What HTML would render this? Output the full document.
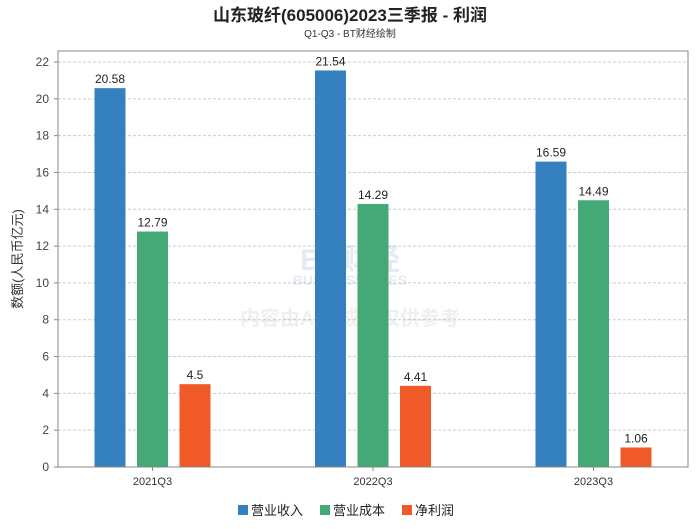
<!DOCTYPE html>
<html><head><meta charset="utf-8"><style>
body{margin:0;background:#fff;}
svg{font-family:"Liberation Sans","Noto Sans CJK SC",sans-serif;}
</style></head><body>
<svg id="chart" width="700" height="524" xmlns="http://www.w3.org/2000/svg">
<text x="350" y="21" text-anchor="middle" font-size="17" font-weight="bold" fill="#222">山东玻纤(605006)2023三季报 - 利润</text>
<text x="350" y="37" text-anchor="middle" font-size="10" fill="#333">Q1-Q3 - BT财经绘制</text>
<g id="grid"></g>
<g opacity="0.13">
<text x="350" y="270" text-anchor="middle" font-size="30" font-weight="bold" fill="#4a6fa5">BT财经</text>
<text x="350" y="285" text-anchor="middle" font-size="14" font-weight="bold" fill="#4a6fa5">BUSINESSTIMES</text>
<text x="350" y="325" text-anchor="middle" font-size="20" font-weight="bold" fill="#888">内容由AI生成，仅供参考</text>
</g>
<g id="bars"></g>
<rect x="58" y="51" width="630" height="416" fill="none" stroke="#888"/>
<text transform="translate(22,259) rotate(-90)" text-anchor="middle" font-size="13" fill="#333">数额(人民币亿元)</text>
<g id="legend"></g>
</svg>
<script>
const categories=["2021Q3","2022Q3","2023Q3"];
const seriesNames=["营业收入","营业成本","净利润"];
const revenue=[20.58,21.54,16.59];
const cost=[12.79,14.29,14.49];
const profit=[4.5,4.41,1.06];
const yTicks=[0,2,4,6,8,10,12,14,16,18,20,22];
const colors=["#3580bf","#45a977","#ef5a28"];
const NS="http://www.w3.org/2000/svg";
const x0=58,x1=688,yTop=51,yBot=467;
const y=v=>467-v*(405/22);
const cx=i=>152.5+220.5*i;
function el(t,a,p){const e=document.createElementNS(NS,t);for(const k in a)e.setAttribute(k,a[k]);p.appendChild(e);return e;}
const grid=document.getElementById('grid');
yTicks.forEach(v=>{
 if(v>0){const l=el('line',{x1:x0,x2:x1,y1:y(v),y2:y(v),stroke:'#ccc','stroke-dasharray':'3,2'},grid);
 
 }
 el('line',{x1:x0-4,x2:x0,y1:y(v),y2:y(v),stroke:'#888'},grid);
 const t=el('text',{x:x0-9,y:y(v)+4,'text-anchor':'end','font-size':'12',fill:'#444'},grid);t.textContent=v;
 
 
});
categories.forEach((c,i)=>{
 const t=el('text',{x:cx(i),y:485,'text-anchor':'middle','font-size':'11',fill:'#333'},grid);t.textContent=c;
 
 
 el('line',{x1:cx(i),x2:cx(i),y1:yBot,y2:yBot+4,stroke:'#888'},grid);
});
const bars=document.getElementById('bars');
const series=[revenue,cost,profit];
const bw=31,step=42.5;
series.forEach((s,si)=>{
 s.forEach((v,i)=>{
  const bx=cx(i)+(si-1)*step-bw/2;
  const r=el('rect',{x:bx,y:y(v),width:bw,height:yBot-y(v),fill:colors[si]},bars);
  
  
  const t=el('text',{x:bx+bw/2,y:y(v)-5,'text-anchor':'middle','font-size':'12',fill:'#222'},bars);t.textContent=v;
  
  
 });
});
const lg=document.getElementById('legend');
let lx=238;
seriesNames.forEach((n,i)=>{
 const g=el('g',{},lg);
 
 
 el('rect',{x:lx,y:505,width:10,height:10,fill:colors[i]},g);
 const t=el('text',{x:lx+13,y:515,'font-size':'13',fill:'#222'},g);t.textContent=n;
 lx+=82;
});
</script>
</body></html>
